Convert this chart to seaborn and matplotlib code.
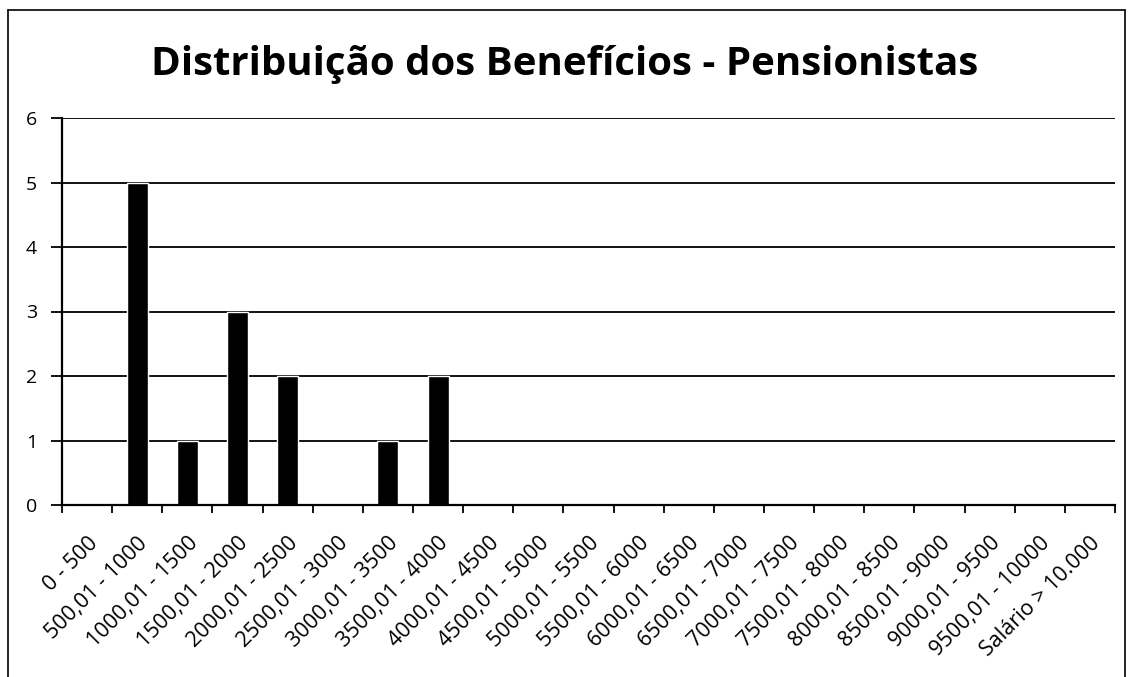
import matplotlib
matplotlib.use("Agg")
import matplotlib.pyplot as plt
import seaborn as sns
import pandas as pd
import numpy as np
from matplotlib.lines import Line2D

categories = ["0 - 500", "500,01 - 1000", "1000,01 - 1500", "1500,01 - 2000",
              "2000,01 - 2500", "2500,01 - 3000", "3000,01 - 3500", "3500,01 - 4000",
              "4000,01 - 4500", "4500,01 - 5000", "5000,01 - 5500", "5500,01 - 6000",
              "6000,01 - 6500", "6500,01 - 7000", "7000,01 - 7500", "7500,01 - 8000",
              "8000,01 - 8500", "8500,01 - 9000", "9000,01 - 9500", "9500,01 - 10000",
              "Salário > 10.000"]
values = [0, 5, 1, 3, 2, 0, 1, 2, 0, 0, 0, 0, 0, 0, 0, 0, 0, 0, 0, 0, 0]
title = "Distribuição dos Benefícios - Pensionistas"

sns.set_style("white")
plt.rcParams['font.family'] = ['Open Sans', 'DejaVu Sans']
plt.rcParams['text.color'] = 'black'
plt.rcParams['xtick.color'] = 'black'
plt.rcParams['ytick.color'] = 'black'

df = pd.DataFrame({"faixa": categories, "qtd": values})

fig = plt.figure(figsize=(11.3, 6.77), dpi=100)
W, H = 1130, 677
ax = fig.add_axes([62 / W, 1 - 505 / H, (1115 - 62) / W, (505 - 118) / H])

sns.barplot(data=df, x="faixa", y="qtd", order=categories, color="black",
            width=0.42, ax=ax, saturation=1)

ax.set_xlim(-0.5, len(categories) - 0.5)
ax.set_ylim(0, 6)
ax.set_yticks(range(0, 7))
ax.yaxis.grid(True, color="black", linewidth=1.3)
ax.set_axisbelow(True)
ax.set_xlabel("")
ax.set_ylabel("")

for s in ["top", "right"]:
    ax.spines[s].set_visible(False)
for s in ["left", "bottom"]:
    ax.spines[s].set_color("black")
    ax.spines[s].set_linewidth(1.6)

ax.set_xticks(np.arange(len(categories)))
ax.set_xticklabels(categories, rotation=45, ha="right", rotation_mode="anchor",
                   fontsize=15.5)
ax.tick_params(axis="x", which="major", length=0, pad=20)
ax.set_xticks(np.arange(len(categories) + 1) - 0.5, minor=True)
ax.tick_params(axis="x", which="minor", length=6, width=1.3, color="black",
               direction="out", bottom=True)
ax.tick_params(axis="y", length=8, width=1.3, color="black", labelsize=14, pad=10,
               direction="out", left=True)

fig.text(0.5, 1 - 65 / H, title, ha="center", va="center", fontsize=29,
         fontweight="bold", color="black")

# outer chart border
fig.add_artist(Line2D([8 / W, 8 / W], [0, 1 - 10 / H], transform=fig.transFigure,
                      color="black", linewidth=1.2))
fig.add_artist(Line2D([8 / W, 1125 / W], [1 - 10 / H, 1 - 10 / H],
                      transform=fig.transFigure, color="black", linewidth=1.2))
fig.add_artist(Line2D([1125 / W, 1125 / W], [0, 1 - 10 / H], transform=fig.transFigure,
                      color="black", linewidth=1.2))

fig.savefig("out.png", dpi=100, facecolor="white")
